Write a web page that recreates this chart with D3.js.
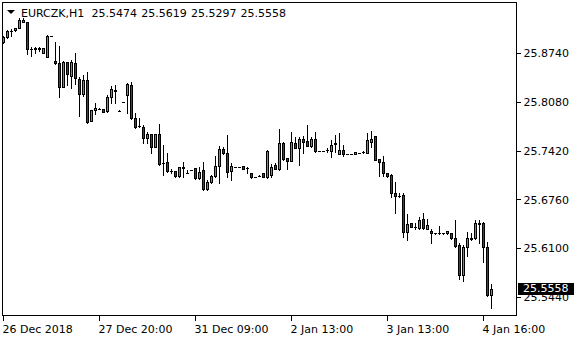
<!DOCTYPE html>
<html>
<head>
<meta charset="utf-8">
<script src="https://cdn.jsdelivr.net/npm/d3@7"></script>
<style>
  body { margin: 0; background: #fff; }
  svg { display: block; font-family: "DejaVu Sans", sans-serif; font-size: 11px; }
</style>
</head>
<body>
<div id="chart"></div>
<script>
// EURCZK H1 candles
var symbol = "EURCZK,H1";

var opens = [25.8885, 25.8952, 25.9030, 25.9042, 25.9074, 25.9159, 25.9155, 25.8795, 25.8796, 25.8800,
    25.8736, 25.8690, 25.8968, 25.8632, 25.8609, 25.8284, 25.8618, 25.8433, 25.8601, 25.8384,
    25.8181, 25.8375, 25.7820, 25.7969, 25.7988, 25.7983, 25.7956, 25.8141, 25.8235, 25.7960,
    25.8077, 25.8172, 25.8303, 25.7857, 25.7750, 25.7743, 25.7586, 25.7640, 25.7473, 25.7640,
    25.7250, 25.7260, 25.7142, 25.7144, 25.7081, 25.7194, 25.7120, 25.7154, 25.7181, 25.7045,
    25.7154, 25.6897, 25.6991, 25.7076, 25.7212, 25.7438, 25.7384, 25.7148, 25.7202, 25.7202,
    25.7208, 25.7185, 25.7113, 25.7067, 25.7083, 25.7113, 25.7059, 25.7090, 25.7225, 25.7171,
    25.7519, 25.7316, 25.7283, 25.7527, 25.7459, 25.7577, 25.7550, 25.7486, 25.7577, 25.7419,
    25.7419, 25.7426, 25.7419, 25.7515, 25.7370, 25.7428, 25.7374, 25.7374, 25.7370, 25.7392,
    25.7395, 25.7392, 25.7540, 25.7617, 25.7306, 25.7270, 25.7121, 25.7090, 25.6851, 25.6812,
    25.6819, 25.6323, 25.6437, 25.6393, 25.6369, 25.6491, 25.6364, 25.6337, 25.6301, 25.6307,
    25.6301, 25.6301, 25.6301, 25.6234, 25.6143, 25.5747, 25.6112, 25.6232, 25.6234, 25.6434,
    25.6437, 25.6112, 25.5474];

var highs = [25.8970, 25.9051, 25.9061, 25.9072, 25.9209, 25.9204, 25.9160, 25.8817, 25.8817, 25.8825,
    25.8808, 25.8983, 25.8973, 25.8889, 25.8835, 25.8625, 25.8622, 25.8645, 25.8736, 25.8419,
    25.8442, 25.8487, 25.7972, 25.8064, 25.7990, 25.7985, 25.8172, 25.8294, 25.8307, 25.7962,
    25.8079, 25.8338, 25.8348, 25.7929, 25.7861, 25.7766, 25.7676, 25.7645, 25.7645, 25.7780,
    25.7496, 25.7388, 25.7167, 25.7147, 25.7203, 25.7262, 25.7158, 25.7156, 25.7183, 25.7194,
    25.7262, 25.7022, 25.7090, 25.7347, 25.7482, 25.7475, 25.7631, 25.7252, 25.7204, 25.7204,
    25.7210, 25.7194, 25.7116, 25.7069, 25.7085, 25.7115, 25.7422, 25.7235, 25.7248, 25.7712,
    25.7532, 25.7318, 25.7667, 25.7608, 25.7608, 25.7621, 25.7766, 25.7608, 25.7676, 25.7421,
    25.7421, 25.7459, 25.7563, 25.7631, 25.7662, 25.7496, 25.7376, 25.7376, 25.7403, 25.7394,
    25.7419, 25.7662, 25.7689, 25.7620, 25.7308, 25.7347, 25.7124, 25.7103, 25.7000, 25.6842,
    25.6842, 25.6558, 25.6440, 25.6437, 25.6526, 25.6572, 25.6499, 25.6364, 25.6303, 25.6400,
    25.6303, 25.6339, 25.6304, 25.6481, 25.6174, 25.6143, 25.6323, 25.6310, 25.6481, 25.6481,
    25.6458, 25.6188, 25.5619];

var lows = [25.8875, 25.8943, 25.8970, 25.9040, 25.9072, 25.9155, 25.8726, 25.8699, 25.8736, 25.8771,
    25.8733, 25.8686, 25.8967, 25.8591, 25.8141, 25.8280, 25.8307, 25.8263, 25.8321, 25.7888,
    25.8158, 25.7797, 25.7815, 25.7915, 25.7984, 25.7942, 25.7946, 25.8068, 25.8068, 25.7958,
    25.8075, 25.7929, 25.7847, 25.7726, 25.7735, 25.7519, 25.7519, 25.7392, 25.7468, 25.7225,
    25.7090, 25.7135, 25.7121, 25.7067, 25.7067, 25.7067, 25.7119, 25.7152, 25.7036, 25.7043,
    25.6894, 25.6887, 25.6982, 25.7067, 25.6986, 25.7378, 25.7067, 25.7022, 25.7200, 25.7200,
    25.7173, 25.7113, 25.7056, 25.7065, 25.7081, 25.7065, 25.7056, 25.7067, 25.7169, 25.7158,
    25.7293, 25.7171, 25.7280, 25.7451, 25.7225, 25.7392, 25.7482, 25.7473, 25.7405, 25.7417,
    25.7417, 25.7405, 25.7337, 25.7401, 25.7368, 25.7351, 25.7372, 25.7372, 25.7368, 25.7390,
    25.7384, 25.7384, 25.7465, 25.7290, 25.7081, 25.7081, 25.7067, 25.6797, 25.6580, 25.6789,
    25.6247, 25.6211, 25.6385, 25.6356, 25.6356, 25.6360, 25.6362, 25.6166, 25.6299, 25.6292,
    25.6299, 25.6299, 25.6230, 25.6120, 25.5683, 25.5660, 25.5998, 25.6211, 25.6230, 25.6166,
    25.5917, 25.5458, 25.5297];

var closes = [25.8952, 25.9034, 25.9036, 25.9069, 25.9186, 25.9186, 25.8790, 25.8798, 25.8800, 25.8797,
    25.8804, 25.8970, 25.8972, 25.8601, 25.8284, 25.8618, 25.8452, 25.8618, 25.8398, 25.8181,
    25.8375, 25.7811, 25.7969, 25.7996, 25.7986, 25.7946, 25.8141, 25.8249, 25.8228, 25.7960,
    25.8077, 25.8321, 25.7857, 25.7743, 25.7755, 25.7586, 25.7645, 25.7473, 25.7640, 25.7239,
    25.7258, 25.7144, 25.7146, 25.7081, 25.7194, 25.7190, 25.7123, 25.7154, 25.7045, 25.7127,
    25.6897, 25.6991, 25.7076, 25.7212, 25.7438, 25.7384, 25.7135, 25.7212, 25.7202, 25.7202,
    25.7175, 25.7183, 25.7059, 25.7067, 25.7083, 25.7067, 25.7419, 25.7202, 25.7171, 25.7519,
    25.7302, 25.7283, 25.7532, 25.7459, 25.7573, 25.7540, 25.7486, 25.7577, 25.7419, 25.7419,
    25.7419, 25.7430, 25.7496, 25.7521, 25.7428, 25.7374, 25.7374, 25.7374, 25.7401, 25.7392,
    25.7398, 25.7563, 25.7577, 25.7293, 25.7270, 25.7113, 25.7081, 25.6842, 25.6810, 25.6808,
    25.6323, 25.6427, 25.6391, 25.6390, 25.6481, 25.6369, 25.6410, 25.6301, 25.6301, 25.6310,
    25.6301, 25.6337, 25.6234, 25.6134, 25.5747, 25.6112, 25.6234, 25.6236, 25.6437, 25.6440,
    25.6112, 25.5474, 25.5558];

// time axis labels sit on these bar numbers
var timeTickIdx = [0, 24, 48, 72, 96, 120];
var timeTickLabels = ["26 Dec 2018", "27 Dec 20:00", "31 Dec 09:00", "2 Jan 13:00", "3 Jan 13:00", "4 Jan 16:00"];

var priceTicks = [25.8740, 25.8080, 25.7420, 25.6760, 25.6100, 25.5440];


function CandleChart(id) {
    var self = this;
    self.sectionId = id;
    self.initVis();
}

CandleChart.prototype.initVis = function () {
    var self = this;

    self.svgWidth = 580;
    self.svgHeight = 340;
    // plot frame
    self.frame = { left: 2.5, top: 2.5, right: 516.5, bottom: 315.5 };
    self.barStep = 4;
    self.bullColor = "#44b044";
    self.bearColor = "#e00000";

    self.svg = d3.select("#" + self.sectionId)
        .append("svg")
        .attr("width", self.svgWidth)
        .attr("height", self.svgHeight);

    var n = opens.length;

    self.x = d3.scaleBand()
        .domain(d3.range(n))
        .range([1.5, 1.5 + self.barStep * n])
        .padding(0);

    self.y = d3.scaleLinear()
        .domain([25.5194, 25.9419])
        .range([self.frame.bottom, self.frame.top]);

    self.bars = d3.range(n).map(function (i) {
        return { i: i, o: opens[i], h: highs[i], l: lows[i], c: closes[i] };
    });

    self.drawAxes();
    self.drawCandles();
    self.drawHeader();
};


CandleChart.prototype.drawAxes = function () {
    var self = this;
    var f = self.frame;

    // price axis on the right
    var yAxis = self.svg.append("g")
        .attr("class", "yAxis")
        .attr("transform", "translate(" + f.right + ",0)")
        .call(d3.axisRight(self.y)
            .tickValues(priceTicks)
            .tickSize(4)
            .tickPadding(3)
            .tickFormat(d3.format(".4f")));
    yAxis.select(".domain").remove();
    yAxis.selectAll("line").attr("stroke", "#000").attr("shape-rendering", "crispEdges");
    yAxis.selectAll("text")
        .attr("fill", "#000")
        .style("font-family", "DejaVu Sans")
        .style("font-size", "11px");

    // time axis
    var xAxis = self.svg.append("g")
        .attr("class", "xAxis")
        .attr("transform", "translate(0," + f.bottom + ")")
        .call(d3.axisBottom(self.x)
            .tickValues(timeTickIdx)
            .tickSize(5)
            .tickFormat(function (d, i) { return timeTickLabels[i]; }));
    xAxis.select(".domain").remove();
    xAxis.selectAll("line").attr("stroke", "#000").attr("shape-rendering", "crispEdges");
    xAxis.selectAll("text")
        .attr("fill", "#000")
        .attr("y", 17)
        .attr("dy", 0)
        .attr("x", -1)
        .style("text-anchor", "start")
        .style("font-family", "DejaVu Sans")
        .style("font-size", "11px");

    self.svg.append("rect")
        .attr("x", f.left)
        .attr("y", f.top)
        .attr("width", f.right - f.left)
        .attr("height", f.bottom - f.top)
        .attr("fill", "none")
        .attr("stroke", "#000")
        .attr("shape-rendering", "crispEdges");
};


CandleChart.prototype.drawCandles = function () {
    var self = this;
    var x = self.x, y = self.y;
    var half = x.bandwidth() / 2;

    var g = self.svg.append("g").attr("class", "candles").attr("shape-rendering", "crispEdges");

    var candle = g.selectAll("g.candle")
        .data(self.bars)
        .join("g")
        .attr("class", "candle");

    // wicks
    candle.append("line")
        .attr("x1", function (d) { return x(d.i) + half; })
        .attr("x2", function (d) { return x(d.i) + half; })
        .attr("y1", function (d) { return Math.round(y(d.h)); })
        .attr("y2", function (d) { return Math.round(y(d.l)) + 1; })
        .attr("stroke", "#000")
        .attr("stroke-width", 1);

    // body outline
    candle.append("rect")
        .attr("x", function (d) { return x(d.i) + half - 1.5; })
        .attr("y", function (d) { return Math.round(y(Math.max(d.o, d.c))); })
        .attr("width", 3)
        .attr("height", function (d) {
            return Math.round(y(Math.min(d.o, d.c))) - Math.round(y(Math.max(d.o, d.c))) + 1;
        })
        .attr("fill", "#000");

    // body fill
    candle.append("rect")
        .attr("x", function (d) { return x(d.i) + half - 0.5; })
        .attr("y", function (d) { return Math.round(y(Math.max(d.o, d.c))) + 1; })
        .attr("width", 1)
        .attr("height", function (d) {
            var h = Math.round(y(Math.min(d.o, d.c))) - Math.round(y(Math.max(d.o, d.c))) - 1;
            return Math.max(0, h);
        })
        .attr("fill", function (d) { return d.c >= d.o ? self.bullColor : self.bearColor; });
};


CandleChart.prototype.drawHeader = function () {
    var self = this;
    var last = self.bars[self.bars.length - 1];

    self.svg.append("path")
        .attr("d", "M7,10L15,10L11,14Z")
        .attr("fill", "#000");

    var fmt = d3.format(".4f");
    var head = self.svg.append("text")
        .attr("y", 17)
        .attr("fill", "#000");
    head.append("tspan").attr("x", 21).text(symbol);
    [last.o, last.h, last.l, last.c].forEach(function (v, k) {
        head.append("tspan").attr("x", 91.5 + k * 49.7).text(fmt(v));
    });

    // current price tag
    var py = self.y(last.c);
    self.svg.append("rect")
        .attr("x", 518)
        .attr("y", Math.round(py) - 6)
        .attr("width", 56)
        .attr("height", 12)
        .attr("fill", "#000");
    self.svg.append("text")
        .attr("x", 523)
        .attr("y", py)
        .attr("dy", "0.36em")
        .attr("fill", "#fff")
        .text(fmt(last.c));
};

new CandleChart("chart");
</script>
</body>
</html>
